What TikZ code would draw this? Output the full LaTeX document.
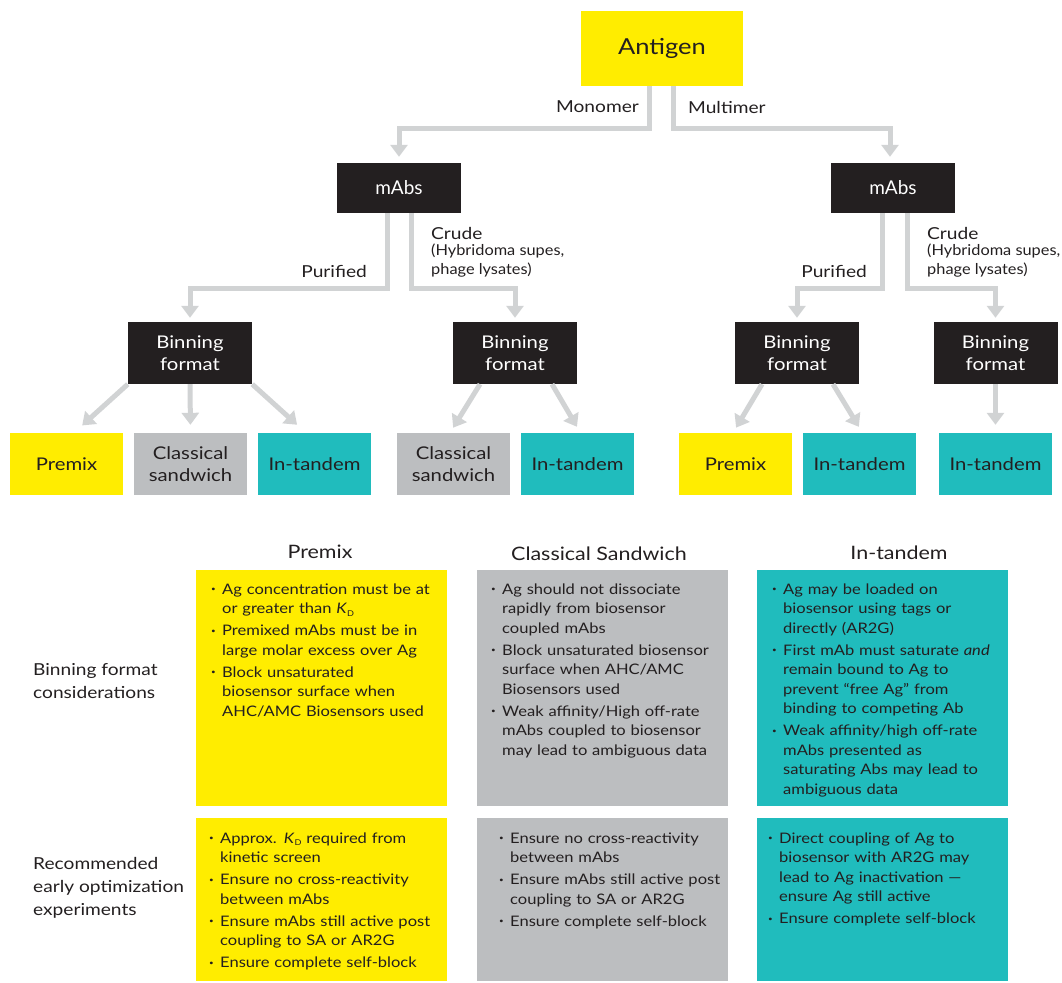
\documentclass[tikz,border=0pt]{standalone}
\usepackage{fontspec}
\setmainfont{Lato}
\newfontfamily\labelfont{Lato}[FakeStretch=1.16]
\newfontfamily\widefont{Lato}[FakeStretch=1.14]
\newfontfamily\subfont{Lato}[FakeStretch=1.09]
\usetikzlibrary{arrows.meta,calc}

\definecolor{agyellow}{HTML}{FFED00}
\definecolor{sandgray}{HTML}{BCBEC0}
\definecolor{tandteal}{HTML}{20BCBD}
\definecolor{mabblack}{HTML}{231F20}
\definecolor{flowgray}{HTML}{D1D3D4}

\newcommand{\bul}[1]{\par\hangindent=11pt\hangafter=1\noindent\makebox[11pt][l]{\raisebox{2.5pt}{\fontsize{7}{7}\selectfont\textbullet}}#1\par}
\newcommand{\Kd}{\textit{K}\raisebox{-2.5pt}{\fontsize{8}{8}\selectfont D}}

\begin{document}
\begin{tikzpicture}[x=1pt,y=-1pt,
    flow/.style={draw=flowgray,line width=5pt,-{Triangle[width=17pt,length=12pt]}},
    darkbox/.style={fill=mabblack,text=white,inner sep=0pt,align=center,minimum width=124pt},
    leafbox/.style={inner sep=0pt,align=center,minimum width=113pt,minimum height=62pt,
        text=mabblack,font=\labelfont\fontsize{17.5}{22.5}\selectfont},
    lbl/.style={text=mabblack,inner sep=0pt,font=\labelfont\fontsize{16.5}{20}\selectfont},
    sublbl/.style={text=mabblack,inner sep=0pt,align=left,font=\subfont\fontsize{15}{19}\selectfont},
    panel/.style={anchor=north west,inner sep=0pt,minimum width=251pt},
    paneltxt/.style={anchor=north west,inner sep=0pt,text width=240pt,align=left,text=mabblack,
        font={\widefont\fontsize{14.5}{19.5}\selectfont\setlength{\parskip}{2.5pt}}},
    rowlbl/.style={anchor=west,inner sep=0pt,align=left,text=mabblack,font=\labelfont\fontsize{16.5}{23}\selectfont},
    colhead/.style={inner sep=0pt,text=mabblack,font=\labelfont\fontsize{18.5}{22}\selectfont}]
\useasboundingbox (0,0) rectangle (1062,982);

% tree
\node[fill=agyellow,inner sep=0pt,minimum width=162pt,minimum height=75pt,text=mabblack,
    font=\labelfont\fontsize{22}{26}\selectfont] (ag) at (662,48.5) {Antigen};
\node[darkbox,minimum height=50pt,font=\fontsize{19}{22}\selectfont] (mabL) at (399,188) {mAbs};
\node[darkbox,minimum height=50pt,font=\fontsize{19}{22}\selectfont] (mabR) at (893,188) {mAbs};

\node[darkbox,minimum height=62pt,font=\labelfont\fontsize{17.5}{22.5}\selectfont] (binA) at (190,353) {Binning\\format};
\node[darkbox,minimum height=62pt,font=\labelfont\fontsize{17.5}{22.5}\selectfont] (binB) at (515,353) {Binning\\format};
\node[darkbox,minimum height=62pt,font=\labelfont\fontsize{17.5}{22.5}\selectfont] (binC) at (797,353) {Binning\\format};
\node[darkbox,minimum height=62pt,font=\labelfont\fontsize{17.5}{22.5}\selectfont] (binD) at (995.5,353) {Binning\\format};

\node[leafbox,fill=agyellow] (premA) at (66.5,464) {Premix};
\node[leafbox,fill=sandgray] (classA) at (190.5,464) {Classical\\sandwich};
\node[leafbox,fill=tandteal] (tandA) at (314.5,464) {In-tandem};
\node[leafbox,fill=sandgray] (classB) at (453.5,464) {Classical\\sandwich};
\node[leafbox,fill=tandteal] (tandB) at (577.5,464) {In-tandem};
\node[leafbox,fill=agyellow] (premC) at (735.5,464) {Premix};
\node[leafbox,fill=tandteal] (tandC) at (859.5,464) {In-tandem};
\node[leafbox,fill=tandteal] (tandD) at (995.5,464) {In-tandem};

% branch labels
\node[lbl,anchor=east] (mono) at (639,107) {Monomer};
\node[lbl,anchor=west] (multi) at (688,107) {Multimer};
\node[lbl,anchor=east] (purL) at (367,271) {Purified};
\node[lbl,anchor=east] (purR) at (867,271) {Purified};
\node[lbl,anchor=west] (crL) at (431,233) {Crude};
\node[sublbl,anchor=north west] (crLs) at (431,244) {(Hybridoma supes,\\phage lysates)};
\node[lbl,anchor=west] (crR) at (927,233) {Crude};
\node[sublbl,anchor=north west] (crRs) at (927,244) {(Hybridoma supes,\\phage lysates)};

% connectors
\draw[flow,shorten >=6pt] ([xshift=-13pt]ag.south) -- ++(0,42) -| (mabL.north);
\draw[flow,shorten >=6pt] ([xshift=11pt]ag.south) -- ++(0,42) -| ([xshift=-3pt]mabR.north);
\draw[flow,shorten >=4pt] ([xshift=-12pt]mabL.south) -- ++(0,75) -| (binA.north);
\draw[flow,shorten >=4pt] ([xshift=12pt]mabL.south) -- ++(0,75) -| (binB.north);
\draw[flow,shorten >=4pt] ([xshift=-11pt]mabR.south) -- ++(0,75) -| (binC.north);
\draw[flow,shorten >=4pt] ([xshift=14pt]mabR.south) -- ++(0,75) -| (binD.north);

\draw[flow,shorten >=11pt] (binA.south west) -- ([xshift=7.5pt]premA.north);
\draw[flow,shorten >=8pt] (binA.south) -- (classA.north);
\draw[flow,shorten >=12pt] (binA.south east) -- ([xshift=-8.5pt]tandA.north);
\draw[flow,shorten >=6pt] ([xshift=-35pt]binB.south) -- ([xshift=-3.5pt]classB.north);
\draw[flow,shorten >=7pt] ([xshift=37pt]binB.south) -- ([xshift=3pt]tandB.north);
\draw[flow,shorten >=6pt] ([xshift=-35pt]binC.south) -- ([xshift=-2.5pt]premC.north);
\draw[flow,shorten >=7pt] ([xshift=36pt]binC.south) -- ([xshift=3pt]tandC.north);
\draw[flow,shorten >=8pt] (binD.south) -- (tandD.north);

% table
\node[colhead] (hdA) at (320,552) {Premix};
\node[colhead] (hdB) at (599,554) {Classical Sandwich};
\node[colhead] (hdC) at (899,553) {In-tandem};

\node[rowlbl] (rowA) at (33,681) {Binning format\\considerations};
\node[rowlbl] (rowB) at (33,888) {Recommended\\early optimization\\experiments};

\node[panel,fill=agyellow,minimum height=236pt] (consA) at (196,570) {};
\node[panel,fill=sandgray,minimum height=236pt] (consB) at (477,570) {};
\node[panel,fill=tandteal,minimum height=236pt] (consC) at (757,570) {};
\node[panel,fill=agyellow,minimum height=163pt] (optA) at (196,818) {};
\node[panel,fill=sandgray,minimum height=163pt] (optB) at (477,818) {};
\node[panel,fill=tandteal,minimum height=163pt] (optC) at (757,818) {};

\node[paneltxt] (consAt) at ([xshift=15pt,yshift=-2pt]consA.north west) {%
\bul{Ag concentration must be at\newline or greater than \Kd}
\bul{Premixed mAbs must be in\newline large molar excess over Ag}
\bul{Block unsaturated\newline biosensor surface when\newline AHC/AMC Biosensors used}};
\node[paneltxt] (consBt) at ([xshift=14pt,yshift=-2pt]consB.north west) {%
\bul{Ag should not dissociate\newline rapidly from biosensor\newline coupled mAbs}
\bul{Block unsaturated biosensor\newline surface when AHC/AMC\newline Biosensors used}
\bul{Weak affinity/High off-rate\newline mAbs coupled to biosensor\newline may lead to ambiguous data}};
\node[paneltxt] (consCt) at ([xshift=15pt,yshift=-2pt]consC.north west) {%
\bul{Ag may be loaded on\newline biosensor using tags or\newline directly (AR2G)}
\bul{First mAb must saturate \textit{and}\newline remain bound to Ag to\newline prevent “free Ag” from\newline binding to competing Ab}
\bul{Weak affinity/high off-rate\newline mAbs presented as\newline saturating Abs may lead to\newline ambiguous data}};
\node[paneltxt] (optAt) at ([xshift=13pt,yshift=-3pt]optA.north west) {%
\bul{Approx. \Kd{} required from\newline kinetic screen}
\bul{Ensure no cross-reactivity\newline between mAbs}
\bul{Ensure mAbs still active post\newline coupling to SA or AR2G}
\bul{Ensure complete self-block}};
\node[paneltxt] (optBt) at ([xshift=22pt,yshift=-3pt]optB.north west) {%
\bul{Ensure no cross-reactivity\newline between mAbs}
\bul{Ensure mAbs still active post\newline coupling to SA or AR2G}
\bul{Ensure complete self-block}};
\node[paneltxt] (optCt) at ([xshift=11pt,yshift=-3pt]optC.north west) {%
\bul{Direct coupling of Ag to\newline biosensor with AR2G may\newline lead to Ag inactivation —\newline ensure Ag still active}
\bul{Ensure complete self-block}};
\end{tikzpicture}
\end{document}
